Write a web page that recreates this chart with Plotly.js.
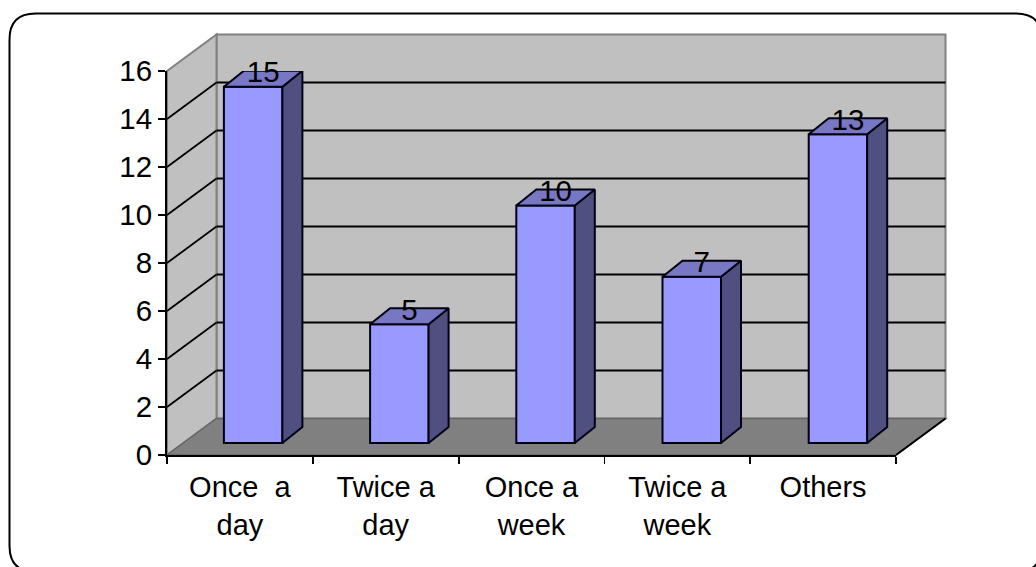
<!DOCTYPE html>
<html>
<head>
<meta charset="utf-8">
<script src="https://cdn.plot.ly/plotly-3.0.1.min.js"></script>
<style>html,body{margin:0;padding:0;background:#fff}#chart{width:1036px;height:567px}</style>
</head>
<body>
<div id="chart"></div>
<script>
const categories = ["Once \u00a0a<br>day", "Twice a<br>day", "Once a<br>week", "Twice a<br>week", "Others"];
const values = [15, 5, 10, 7, 13];
const axisTicks = [0, 2, 4, 6, 8, 10, 12, 14, 16];

const W = 1036, H = 567;
const px = x => x / W, py = y => 1 - y / H;
// geometry of the pseudo-3D frame, in page pixels
const L = 167, R = 896, T = 71, B = 455, DX = 49.5, DY = 36.5;
const UNIT_X = (R - L) / categories.length, UNIT_Y = (B - T) / 16;
const BAR_PERIOD = 146.2, BAR_SCALE = 23.75, BAR_FLOOR = 443;
const BAR_OFF = -16 / BAR_PERIOD, BAR_W = 58.5 / BAR_PERIOD, SIDE_X = 20 / BAR_PERIOD, SIDE_Y = 16 / BAR_SCALE;
const EDGE = '#000014';
const positions = values.map((v, i) => i);

const poly = (pts, fill, color, width) => ({
  type: 'path', xref: 'paper', yref: 'paper', layer: 'below', fillcolor: fill,
  line: {color: color, width: width},
  path: 'M' + pts.map(p => px(p[0]) + ',' + py(p[1])).join('L') + 'Z'
});
const seg = (x0, y0, x1, y1, color, width) => ({
  type: 'line', xref: 'paper', yref: 'paper', layer: 'below',
  x0: px(x0), y0: py(y0), x1: px(x1), y1: py(y1), line: {color: color, width: width}
});
// rounded outer frame
const fL = 9.5, fT = 13.5, fR = 1042, fB = 572, r = 26;
const fp = (x, y) => px(x) + ',' + py(y);
const frame = {
  type: 'path', xref: 'paper', yref: 'paper', layer: 'below', fillcolor: '#ffffff',
  line: {color: '#000000', width: 2},
  path: 'M' + fp(fL + r, fT) + 'L' + fp(fR - r, fT) + 'Q' + fp(fR, fT) + ' ' + fp(fR, fT + r) +
        'L' + fp(fR, fB - r) + 'Q' + fp(fR, fB) + ' ' + fp(fR - r, fB) +
        'L' + fp(fL + r, fB) + 'Q' + fp(fL, fB) + ' ' + fp(fL, fB - r) +
        'L' + fp(fL, fT + r) + 'Q' + fp(fL, fT) + ' ' + fp(fL + r, fT) + 'Z'
};
const shapes = [
  frame,
  poly([[L+DX,T-DY],[R+DX,T-DY],[R+DX,B-DY],[L+DX,B-DY]], '#C0C0C0', '#808080', 2),
  poly([[L,T],[L+DX,T-DY],[L+DX,B-DY],[L,B]], '#C0C0C0', '#808080', 2),
  poly([[L,B],[L+DX,B-DY],[R+DX,B-DY],[R,B]], '#808080', '#666666', 1.5),
  seg(R, B, R+DX, B-DY, '#000000', 2)
];
axisTicks.filter(v => v > 0 && v < 16).forEach(v => {
  const y = B - v * UNIT_Y;
  shapes.push(seg(L, y, L+DX, y-DY, '#000000', 1.8));
  shapes.push(seg(L+DX, y-DY, R+DX, y-DY, '#000000', 1.8));
});

// side and top faces of each bar, built from the values
const sideX = [], sideY = [], topX = [], topY = [];
values.forEach((v, i) => {
  const a = i + BAR_OFF, b = a + BAR_W;
  sideX.push(b, b + SIDE_X, b + SIDE_X, b, b, null);
  sideY.push(0, SIDE_Y, v + SIDE_Y, v, 0, null);
  topX.push(a, a + SIDE_X, b + SIDE_X, b, a, null);
  topY.push(v, v + SIDE_Y, v + SIDE_Y, v, v, null);
});

const font = {family: '"Liberation Sans", Arial, sans-serif', size: 29.5, color: '#000000'};
const catFont = {family: '"Liberation Sans", Arial, sans-serif', size: 29, color: '#000000'};
const traces = [
  {type: 'scatter', x: categories, y: values, xaxis: 'x', yaxis: 'y', mode: 'markers',
   marker: {opacity: 0}, hoverinfo: 'skip', showlegend: false},
  {type: 'scatter', x: sideX, y: sideY, xaxis: 'x2', yaxis: 'y3', mode: 'lines', fill: 'toself',
   fillcolor: '#505080', line: {color: EDGE, width: 2}, cliponaxis: false, hoverinfo: 'skip', showlegend: false},
  {type: 'scatter', x: topX, y: topY, xaxis: 'x2', yaxis: 'y3', mode: 'lines', fill: 'toself',
   fillcolor: '#7777C4', line: {color: EDGE, width: 2}, cliponaxis: false, hoverinfo: 'skip', showlegend: false},
  {type: 'bar', x: positions, y: values, xaxis: 'x2', yaxis: 'y3', width: BAR_W, offset: BAR_OFF,
   marker: {color: '#9999FF', line: {color: EDGE, width: 2}}, showlegend: false, cliponaxis: false},
  {type: 'scatter', x: positions.map(p => p + BAR_OFF + BAR_W / 2 + SIDE_X / 2),
   y: values.map(v => v + 0.5), xaxis: 'x2', yaxis: 'y3', mode: 'text',
   text: values.map(String), textposition: 'middle center', textfont: font,
   cliponaxis: false, hoverinfo: 'skip', showlegend: false}
];

const xDomain = [px(L), px(R)], yDomain = [py(B), py(T)];
const center0 = UNIT_X / 2 / BAR_PERIOD;
const layout = {
  width: W, height: H, margin: {l: 0, r: 0, t: 0, b: 0, pad: 0},
  paper_bgcolor: '#ffffff', plot_bgcolor: 'rgba(0,0,0,0)', font: font, showlegend: false,
  shapes: shapes,
  xaxis: {domain: xDomain, type: 'category', categoryorder: 'array', categoryarray: categories,
    range: [-0.5, 4.5], tickson: 'boundaries', ticks: 'outside', ticklen: 7, tickwidth: 1.8, tickcolor: '#000',
    showline: true, linecolor: '#000', linewidth: 2, showgrid: false, zeroline: false, tickfont: catFont,
    automargin: false, tickangle: 0, fixedrange: true, ticklabelstandoff: 5},
  yaxis: {domain: yDomain, range: [0, 16], tickvals: axisTicks, ticktext: axisTicks.map(String),
    ticks: 'outside', ticklen: 7, tickwidth: 1.8, tickcolor: '#000', showline: true, linecolor: '#000', linewidth: 2,
    showgrid: false, zeroline: false, tickfont: font, automargin: false, fixedrange: true},
  xaxis2: {domain: xDomain, overlaying: 'x', anchor: 'y3',
    range: [-center0, (R - L) / BAR_PERIOD - center0], visible: false, fixedrange: true},
  yaxis3: {domain: yDomain, overlaying: 'y', anchor: 'x2',
    range: [-(B - BAR_FLOOR) / BAR_SCALE, (BAR_FLOOR - T) / BAR_SCALE], visible: false, fixedrange: true}
};
Plotly.newPlot('chart', traces, layout, {displayModeBar: false, staticPlot: true});
</script>
</body>
</html>
